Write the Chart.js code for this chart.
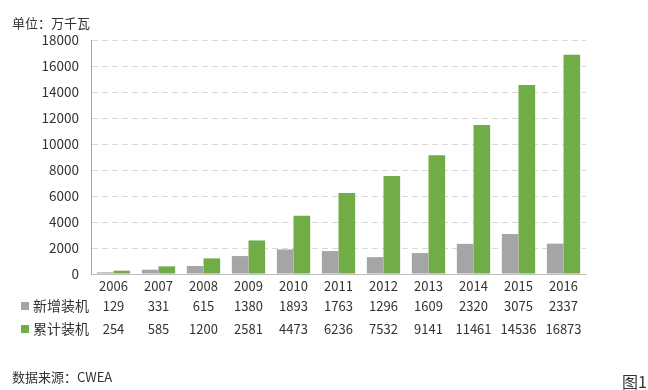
<!DOCTYPE html>
<html>
<head>
<meta charset="utf-8">
<script src="https://cdn.jsdelivr.net/npm/chart.js@4"></script>
<style>
  body { margin: 0; background: #fff; }
  #wrap { position: relative; width: 648px; height: 390px; font-family: "Noto Sans CJK SC", sans-serif; color: #333; }
  canvas { position: absolute; left: 0; top: 0; }
  .note { position: absolute; font-size: 13px; white-space: nowrap; }
</style>
</head>
<body>
<div id="wrap">
  <canvas id="windChart" width="648" height="390"></canvas>
  <div class="note" style="left:12px; top:13px;">单位：万千瓦</div>
  <div class="note" style="left:12px; top:367px;">数据来源：CWEA</div>
  <div class="note" style="left:622px; top:369px; font-size:16px;">图1</div>
</div>
<script>
// Data
const years = ["2006", "2007", "2008", "2009", "2010", "2011", "2012", "2013", "2014", "2015", "2016"];
const newInstalled = [129, 331, 615, 1380, 1893, 1763, 1296, 1609, 2320, 3075, 2337];
const totalInstalled = [254, 585, 1200, 2581, 4473, 6236, 7532, 9141, 11461, 14536, 16873];
const seriesNames = ["新增装机", "累计装机"];
const seriesColors = ["#A5A5A5", "#70AD47"];

const numFont = '13px "Noto Sans CJK SC", sans-serif';

// draws the data table under the bars, aligned with the x scale
const dataTable = {
  id: "dataTable",
  afterDraw(chart) {
    const ctx = chart.ctx;
    const x = chart.scales.x;
    const rows = [
      { y: 286, values: years },
      { y: 306, values: newInstalled, name: seriesNames[0], color: seriesColors[0] },
      { y: 329, values: totalInstalled, name: seriesNames[1], color: seriesColors[1] },
    ];
    ctx.save();
    ctx.textBaseline = "middle";
    rows.forEach((row) => {
      ctx.font = numFont;
      ctx.fillStyle = "#333";
      ctx.textAlign = "center";
      row.values.forEach((v, i) => {
        ctx.fillText(String(v), x.getPixelForValue(i), row.y);
      });
      if (row.name) {
        ctx.fillStyle = row.color;
        ctx.fillRect(21, row.y - 4, 8, 8);
        ctx.fillStyle = "#333";
        ctx.textAlign = "left";
        ctx.font = '14px "Noto Sans CJK SC", sans-serif';
        ctx.fillText(row.name, 33, row.y);
      }
    });
    ctx.restore();
  },
};

new Chart(document.getElementById("windChart"), {
  type: "bar",
  data: {
    labels: years,
    datasets: [
      { label: seriesNames[0], data: newInstalled, backgroundColor: seriesColors[0] },
      { label: seriesNames[1], data: totalInstalled, backgroundColor: seriesColors[1] },
    ],
  },
  options: {
    responsive: false,
    animation: false,
    layout: { padding: { left: 0, right: 62, top: 40, bottom: 108 } },
    datasets: { bar: { categoryPercentage: 0.74, barPercentage: 1 } },
    plugins: { legend: { display: false }, tooltip: { enabled: false } },
    scales: {
      x: {
        ticks: { display: false },
        grid: { display: false },
        border: { display: true, color: "#BFBFBF", dash: [2, 2] },
      },
      y: {
        min: 0,
        max: 18000,
        afterFit(scale) { scale.width = 91; },
        ticks: {
          stepSize: 2000,
          color: "#333",
          font: { size: 13.5, family: '"Noto Sans CJK SC", sans-serif' },
          padding: 12,
          callback: (v) => String(v),
        },
        grid: {
          color: "#D9D9D9",
          tickLength: 0,
          drawTicks: false,
        },
        border: { display: true, color: "#A6A6A6", dash: [6, 4] },
      },
    },
  },
  plugins: [dataTable],
});
</script>
</body>
</html>
